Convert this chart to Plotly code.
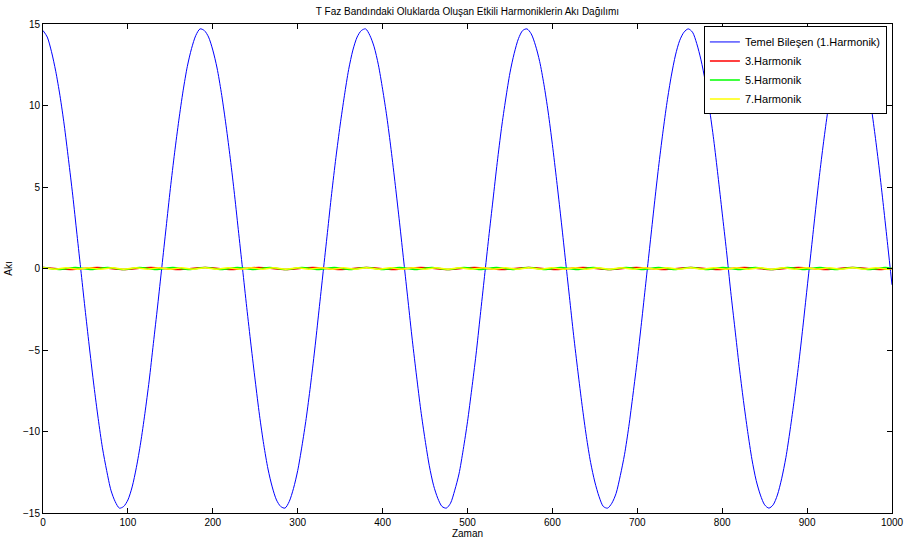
import plotly.graph_objects as go

# Fundamental (1st harmonic) flux, read every 5 time units (x = 0, 5, ..., 1000)
x_fund = list(range(0, 1001, 5))
y_fund = [14.6, 14.2, 13.3, 12.1, 10.6, 8.8, 6.7, 4.5, 2.1, -0.3,
          -2.7, -5.0, -7.2, -9.2, -11.0, -12.4, -13.6, -14.3, -14.7, -14.6,
          -14.2, -13.4, -12.2, -10.7, -8.9, -6.9, -4.6, -2.3, 0.1, 2.5,
          4.9, 7.1, 9.1, 10.9, 12.4, 13.5, 14.3, 14.7, 14.6, 14.2,
          13.4, 12.3, 10.8, 9.0, 7.0, 4.8, 2.4, 0.0, -2.4, -4.7,
          -6.9, -9.0, -10.8, -12.3, -13.4, -14.2, -14.6, -14.7, -14.3, -13.5,
          -12.4, -10.9, -9.2, -7.2, -5.0, -2.6, -0.2, 2.2, 4.6, 6.8,
          8.8, 10.6, 12.2, 13.4, 14.2, 14.6, 14.7, 14.3, 13.6, 12.5,
          11.0, 9.3, 7.3, 5.1, 2.8, 0.4, -2.0, -4.4, -6.6, -8.7,
          -10.5, -12.1, -13.3, -14.1, -14.6, -14.7, -14.4, -13.6, -12.6, -11.1,
          -9.4, -7.4, -5.3, -2.9, -0.5, 1.9, 4.2, 6.5, 8.6, 10.4,
          12.0, 13.2, 14.1, 14.6, 14.7, 14.4, 13.7, 12.7, 11.3, 9.6,
          7.6, 5.4, 3.1, 0.7, -1.7, -4.1, -6.3, -8.4, -10.3, -11.9,
          -13.1, -14.0, -14.6, -14.7, -14.4, -13.8, -12.7, -11.4, -9.7, -7.7,
          -5.6, -3.3, -0.9, 1.5, 3.9, 6.2, 8.3, 10.2, 11.8, 13.1,
          14.0, 14.5, 14.7, 14.5, 13.8, 12.8, 11.5, 9.8, 7.9, 5.7,
          3.4, 1.1, -1.4, -3.7, -6.0, -8.1, -10.0, -11.7, -13.0, -13.9,
          -14.5, -14.7, -14.5, -13.9, -12.9, -11.6, -9.9, -8.0, -5.9, -3.6,
          -1.2, 1.2, 3.6, 5.9, 8.0, 9.9, 11.6, 12.9, 13.9, 14.5,
          14.7, 14.5, 13.9, 13.0, 11.7, 10.1, 8.2, 6.1, 3.8, 1.4,
          -1.0]

# 3rd harmonic: peak / trough points
x_h3 = [0, 32, 64, 95, 127, 159, 191, 222, 254, 286, 318, 350, 381, 413, 445,
        477, 508, 540, 572, 604, 636, 667, 699, 731, 763, 795, 826, 858, 890,
        922, 953, 985, 1000]
y_h3 = [0.06, -0.06, 0.06, -0.06, 0.06, -0.06, 0.06, -0.06, 0.06, -0.06, 0.06, -0.06,
        0.06, -0.06, 0.06, -0.06, 0.06, -0.06, 0.06, -0.06, 0.06, -0.06, 0.06, -0.06,
        0.06, -0.06, 0.06, -0.06, 0.06, -0.06, 0.06, -0.06, 0.0]

# 5th harmonic: peak / trough points
x_h5 = [0, 19, 38, 57, 76, 95, 114, 133, 153, 172, 191, 210, 229, 248, 267,
        286, 305, 324, 343, 362, 381, 400, 420, 439, 458, 477, 496, 515, 534,
        553, 572, 591, 610, 629, 648, 667, 687, 706, 725, 744, 763, 782, 801,
        820, 839, 858, 877, 896, 915, 934, 954, 973, 992, 1000]
y_h5 = [0.06, -0.06, 0.06, -0.06, 0.06, -0.06, 0.06, -0.06, 0.06, -0.06, 0.06, -0.06,
        0.06, -0.06, 0.06, -0.06, 0.06, -0.06, 0.06, -0.06, 0.06, -0.06, 0.06, -0.06,
        0.06, -0.06, 0.06, -0.06, 0.06, -0.06, 0.06, -0.06, 0.06, -0.06, 0.06, -0.06,
        0.06, -0.06, 0.06, -0.06, 0.06, -0.06, 0.06, -0.06, 0.06, -0.06, 0.06, -0.06,
        0.06, -0.06, 0.06, -0.06, 0.06, 0.0]

# 7th harmonic: peak / trough points
x_h7 = [0, 14, 27, 41, 54, 68, 82, 95, 109, 123, 136, 150, 163, 177, 191,
        204, 218, 232, 245, 259, 272, 286, 300, 313, 327, 341, 354, 368, 381,
        395, 409, 422, 436, 450, 463, 477, 490, 504, 518, 531, 545, 559, 572,
        586, 599, 613, 627, 640, 654, 667, 681, 695, 708, 722, 736, 749, 763,
        776, 790, 804, 817, 831, 845, 858, 872, 885, 899, 913, 926, 940, 954,
        967, 981, 994, 1000]
y_h7 = [0.04, -0.04, 0.04, -0.04, 0.04, -0.04, 0.04, -0.04, 0.04, -0.04,
        0.04, -0.04, 0.04, -0.04, 0.04, -0.04, 0.04, -0.04, 0.04, -0.04,
        0.04, -0.04, 0.04, -0.04, 0.04, -0.04, 0.04, -0.04, 0.04, -0.04,
        0.04, -0.04, 0.04, -0.04, 0.04, -0.04, 0.04, -0.04, 0.04, -0.04,
        0.04, -0.04, 0.04, -0.04, 0.04, -0.04, 0.04, -0.04, 0.04, -0.04,
        0.04, -0.04, 0.04, -0.04, 0.04, -0.04, 0.04, -0.04, 0.04, -0.04,
        0.04, -0.04, 0.04, -0.04, 0.04, -0.04, 0.04, -0.04, 0.04, -0.04,
        0.04, -0.04, 0.04, -0.04, 0.0]

names = ["Temel Bileşen (1.Harmonik)", "3.Harmonik", "5.Harmonik", "7.Harmonik"]
colors = ["#0000ff", "#ff0000", "#00ff00", "#ffff00"]
xs = [x_fund, x_h3, x_h5, x_h7]
ys = [y_fund, y_h3, y_h5, y_h7]
widths = [1.0, 1.5, 1.5, 1.5]

x_ticks = list(range(0, 1001, 100))
y_ticks = [-15, -10, -5, 0, 5, 10, 15]

FONT = "Liberation Sans, Arial, sans-serif"

fig = go.Figure()
for xv, yv, nm, c, w in zip(xs, ys, names, colors, widths):
    fig.add_trace(go.Scatter(x=xv, y=yv, mode="lines", name=nm,
                             line=dict(color=c, width=w, shape="spline", smoothing=0.8)))

axis_common = dict(
    showgrid=False, zeroline=False, showline=True, linecolor="black", linewidth=1,
    mirror="ticks", ticks="inside", ticklen=5, tickcolor="black", tickwidth=1,
    tickfont=dict(family=FONT, size=10, color="black"), automargin=False,
)

fig.update_layout(
    width=907, height=551,
    margin=dict(l=43, r=15, t=24, b=38),
    paper_bgcolor="white", plot_bgcolor="white",
    font=dict(family=FONT, size=10, color="black"),
    title=dict(text="T Faz Bandındaki Oluklarda Oluşan Etkili Harmoniklerin Akı Dağılımı",
               x=(43 + 892) / 2 / 907, xanchor="center", y=1 - 11 / 551, yanchor="middle",
               font=dict(family=FONT, size=10, color="black")),
    xaxis=dict(range=[0, 1000], tickvals=x_ticks,
               title=dict(text="Zaman", standoff=2, font=dict(family=FONT, size=10)),
               **axis_common),
    yaxis=dict(range=[-15, 15], tickvals=y_ticks,
               title=dict(text="Akı", standoff=8, font=dict(family=FONT, size=10)),
               **axis_common),
    legend=dict(x=0.994, y=0.995, xanchor="right", yanchor="top",
                bgcolor="white", bordercolor="black", borderwidth=1,
                font=dict(family=FONT, size=11, color="black"),
                tracegroupgap=0, itemwidth=30),
    showlegend=True,
)

fig.write_html("out.html")
